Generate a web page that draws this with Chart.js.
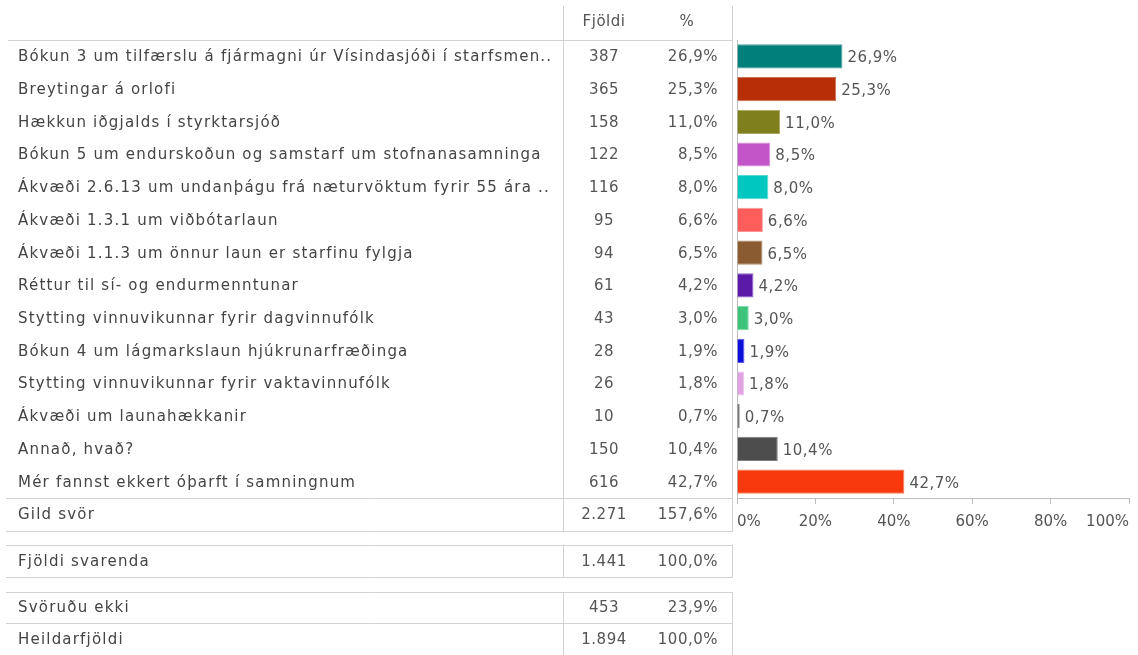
<!DOCTYPE html>
<html>
<head>
<meta charset="utf-8">
<script src="https://cdn.jsdelivr.net/npm/chart.js@4/dist/chart.umd.min.js"></script>
<style>
  html, body { margin: 0; padding: 0; background: #fff; }
  #wrap { width: 1138px; height: 655px; position: relative; }
</style>
</head>
<body>
<div id="wrap"><canvas id="c" width="1138" height="655"></canvas></div>
<script>
// ---- data ----
const categories = [
  "Bókun 3 um tilfærslu á fjármagni úr Vísindasjóði í starfsmen..",
  "Breytingar á orlofi",
  "Hækkun iðgjalds í styrktarsjóð",
  "Bókun 5 um endurskoðun og samstarf um stofnanasamninga",
  "Ákvæði 2.6.13 um undanþágu frá næturvöktum fyrir 55 ára ..",
  "Ákvæði 1.3.1 um viðbótarlaun",
  "Ákvæði 1.1.3 um önnur laun er starfinu fylgja",
  "Réttur til sí- og endurmenntunar",
  "Stytting vinnuvikunnar fyrir dagvinnufólk",
  "Bókun 4 um lágmarkslaun hjúkrunarfræðinga",
  "Stytting vinnuvikunnar fyrir vaktavinnufólk",
  "Ákvæði um launahækkanir",
  "Annað, hvað?",
  "Mér fannst ekkert óþarft í samningnum"
];
const counts = [387, 365, 158, 122, 116, 95, 94, 61, 43, 28, 26, 10, 150, 616];
const percents = [26.9, 25.3, 11.0, 8.5, 8.0, 6.6, 6.5, 4.2, 3.0, 1.9, 1.8, 0.7, 10.4, 42.7];
const barColors = ["#007f7b", "#b72e07", "#7f7f1e", "#c455c8", "#00c7c0", "#ff5c5c",
                   "#8a5a30", "#5b1aa8", "#3cc47a", "#0f0fdc", "#e2a3e2", "#555555",
                   "#4d4d4d", "#f7390d"];
const barBorders = ["#4aa5a2", "#cf6f55", "#a8a862", "#d98bdb", "#55dbd6", "#ff9595",
                    "#b08a6a", "#8d66c5", "#80d9a8", "#5a5ae8", "#eec4ee", "#888888",
                    "#808080", "#fa7a5a"];
const headerLabels = ["Fjöldi", "%"];
const summaryLabels = ["Gild svör", "Fjöldi svarenda", "Svöruðu ekki", "Heildarfjöldi"];
const summaryCounts = [2271, 1441, 453, 1894];
const summaryPercents = [157.6, 100.0, 23.9, 100.0];
const xTicks = [0, 20, 40, 60, 80, 100];

// ---- helpers ----
const FONT = '15px "DejaVu Sans"';
const TXT = '#444';
const NUM = '#555';
const LINE = '#d2d2d2';
function fmtPct(v) { return v.toFixed(1).replace('.', ',') + '%'; }
function fmtCount(v) { return String(v).replace(/\B(?=(\d{3})+(?!\d))/g, '.'); }

const COL_LABEL_X = 18, COL_SEP1 = 563.5, COL_COUNT_X = 604, COL_PCT_R = 718, COL_SEP2 = 732.5, TABLE_L = 6;

const tablePlugin = {
  id: 'tablePlugin',
  afterDraw(chart) {
    const ctx = chart.ctx;
    const ys = chart.scales.y;
    const meta = chart.getDatasetMeta(0);
    const top = ys.top, bottom = ys.bottom;
    const rowH = (bottom - top) / categories.length;
    ctx.save();
    ctx.font = FONT;
    ctx.textBaseline = 'middle';
    const label = (t, x, y) => { ctx.letterSpacing = '1.2px'; ctx.textAlign = 'left'; ctx.fillStyle = TXT; ctx.fillText(t, x, y); };
    const num = (t, x, y, align) => { ctx.letterSpacing = '0.5px'; ctx.textAlign = align; ctx.fillStyle = NUM; ctx.fillText(t, x, y); };

    // header
    num(headerLabels[0], COL_COUNT_X, top - 18, 'center');
    num(headerLabels[1], 687, top - 18, 'center');

    // lines
    ctx.strokeStyle = LINE;
    ctx.lineWidth = 1;
    const hl = (y, x1, x2) => { ctx.beginPath(); ctx.moveTo(x1, Math.round(y) + 0.5); ctx.lineTo(x2, Math.round(y) + 0.5); ctx.stroke(); };
    const vl = (x, y1, y2) => { ctx.beginPath(); ctx.moveTo(x, y1); ctx.lineTo(x, y2); ctx.stroke(); };
    hl(top, TABLE_L + 2, COL_SEP2);
    hl(bottom, TABLE_L, COL_SEP2);
    const gildBottom = bottom + rowH;
    hl(gildBottom, TABLE_L, COL_SEP2);
    vl(COL_SEP1, 6, gildBottom + 1);
    vl(COL_SEP2, 6, gildBottom + 1);
    const b2Top = gildBottom + 14, b2Bot = b2Top + 32;
    hl(b2Top, TABLE_L, COL_SEP2); hl(b2Bot, TABLE_L, COL_SEP2);
    vl(COL_SEP1, b2Top, b2Bot + 1); vl(COL_SEP2, b2Top, b2Bot + 1);
    const b3Top = b2Bot + 15, b3Mid = b3Top + 31;
    hl(b3Top, TABLE_L, COL_SEP2); hl(b3Mid, TABLE_L, COL_SEP2);
    vl(COL_SEP1, b3Top, 655); vl(COL_SEP2, b3Top, 655);

    // data rows
    categories.forEach((c, i) => {
      const y = ys.getPixelForValue(i) + 1;
      label(c, COL_LABEL_X, y);
      num(fmtCount(counts[i]), COL_COUNT_X, y, 'center');
      num(fmtPct(percents[i]), COL_PCT_R, y, 'right');
      const bar = meta.data[i];
      num(fmtPct(percents[i]), bar.x + 5, y + 1, 'left');
    });

    // summary rows
    const sumY = [bottom + rowH / 2 + 1, (b2Top + b2Bot) / 2 + 1, (b3Top + b3Mid) / 2 + 1, (b3Mid + 655) / 2 + 1];
    summaryLabels.forEach((s, i) => {
      label(s, COL_LABEL_X, sumY[i]);
      num(fmtCount(summaryCounts[i]), COL_COUNT_X, sumY[i], 'center');
      num(fmtPct(summaryPercents[i]), COL_PCT_R, sumY[i], 'right');
    });
    ctx.restore();
  }
};

new Chart(document.getElementById('c'), {
  type: 'bar',
  data: {
    labels: categories,
    datasets: [{
      data: percents,
      backgroundColor: barColors,
      borderColor: barBorders,
      borderWidth: 1,
      barPercentage: 0.74,
      categoryPercentage: 1.0
    }]
  },
  options: {
    indexAxis: 'y',
    responsive: false,
    animation: false,
    layout: { padding: { left: 737, right: 5, top: 40, bottom: 0 } },
    plugins: { legend: { display: false }, tooltip: { enabled: false } },
    scales: {
      y: {
        ticks: { display: false },
        grid: { display: false },
        border: { display: true, color: '#bdbdbd', width: 1 },
        afterFit(s) { s.width = 0; }
      },
      x: {
        min: 0, max: 100,
        afterBuildTicks(s) { s.ticks = xTicks.map(v => ({ value: v })); },
        ticks: {
          callback: v => v + '%',
          align: 'inner',
          color: NUM,
          font: { family: 'DejaVu Sans', size: 15 },
          padding: 9,
          maxRotation: 0
        },
        grid: { display: true, drawOnChartArea: false, drawTicks: true, tickLength: 6, color: '#bdbdbd' },
        border: { display: true, color: '#bdbdbd', width: 1 },
        afterFit(s) { s.height = 157; }
      }
    }
  },
  plugins: [tablePlugin]
});
</script>
</body>
</html>
